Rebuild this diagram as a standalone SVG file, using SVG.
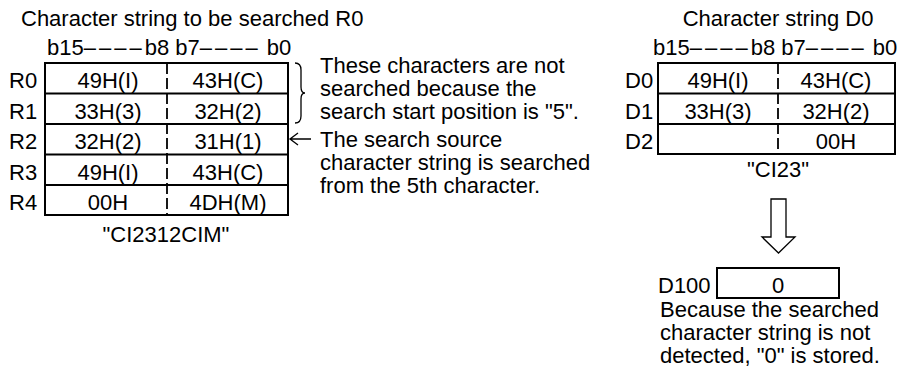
<svg xmlns="http://www.w3.org/2000/svg" width="899" height="374" viewBox="0 0 899 374">
<style>
text{font-family:"Liberation Sans",Arial,sans-serif;font-size:22px;fill:#000}
.c{text-anchor:middle}
.d{letter-spacing:3px}
.box{fill:#fff;stroke:#000;stroke-width:2}
.ln{stroke:#000;stroke-width:2;fill:none}
.dash{stroke:#000;stroke-width:1.8;stroke-dasharray:11 4;fill:none}
.thin{stroke:#000;stroke-width:1.3;fill:none}
</style>
<rect width="899" height="374" fill="#fff"/>
<g id="registerR">
<text x="21" y="26">Character string to be searched R0</text>
<text x="47" y="55">b15<tspan class="d">––––</tspan>b8 b7<tspan class="d">––––</tspan> b0</text>
<rect class="box" x="45" y="63" width="243" height="152"/>
<path class="ln" d="M45 93.5H288M45 124H288M45 154.5H288M45 185H288"/>
<path class="dash" d="M167 63V215"/>
<text x="9" y="88">R0</text><text x="9" y="118.5">R1</text><text x="9" y="149">R2</text><text x="9" y="179.5">R3</text><text x="9" y="210">R4</text>
<text class="c" x="108" y="88">49H(I)</text><text class="c" x="228" y="88">43H(C)</text>
<text class="c" x="108" y="118.5">33H(3)</text><text class="c" x="228" y="118.5">32H(2)</text>
<text class="c" x="108" y="149">32H(2)</text><text class="c" x="228" y="149">31H(1)</text>
<text class="c" x="108" y="179.5">49H(I)</text><text class="c" x="228" y="179.5">43H(C)</text>
<text class="c" x="108" y="210">00H</text><text class="c" x="228" y="210">4DH(M)</text>
<text class="c" x="166" y="242">"CI2312CIM"</text>
</g>
<g id="note1">
<text x="320" y="73">These characters are not</text>
<text x="320" y="96">searched because the</text>
<text x="320" y="119">search start position is "5".</text>
</g>
<g id="note2">
<text x="320" y="147">The search source</text>
<text x="320" y="170">character string is searched</text>
<text x="320" y="193">from the 5th character.</text>
</g>
<g id="registerD">
<text class="c" x="778" y="26">Character string D0</text>
<text x="653" y="55">b15<tspan class="d">––––</tspan>b8 b7<tspan class="d">––––</tspan> b0</text>
<rect class="box" x="658" y="63" width="237" height="91"/>
<path class="ln" d="M658 93.5H895M658 124H895"/>
<path class="dash" d="M778 63V154"/>
<text x="625" y="88">D0</text><text x="625" y="118.5">D1</text><text x="625" y="149">D2</text>
<text class="c" x="718" y="88">49H(I)</text><text class="c" x="836" y="88">43H(C)</text>
<text class="c" x="718" y="118.5">33H(3)</text><text class="c" x="836" y="118.5">32H(2)</text>
<text class="c" x="836" y="149">00H</text>
<text class="c" x="778" y="177">"CI23"</text>
</g>
<g id="resultD100">
<text x="658" y="293">D100</text>
<rect class="box" x="717" y="268" width="122" height="30"/>
<text class="c" x="778" y="293">0</text>
<text x="660" y="317">Because the searched</text>
<text x="660" y="340">character string is not</text>
<text x="660" y="363">detected, "0" is stored.</text>
</g>
<g id="connectors">
<path class="thin" d="M295 63Q301 63 301 70V87Q301 93 305 93Q301 93 301 99V116Q301 123 295 123"/>
<path class="thin" d="M311 139H290M298 133L290 139L298 145"/>
<polygon class="thin" fill="#fff" points="771,199 786,199 786,237 795,237 778.5,253 762,237 771,237"/>
</g>
</svg>
